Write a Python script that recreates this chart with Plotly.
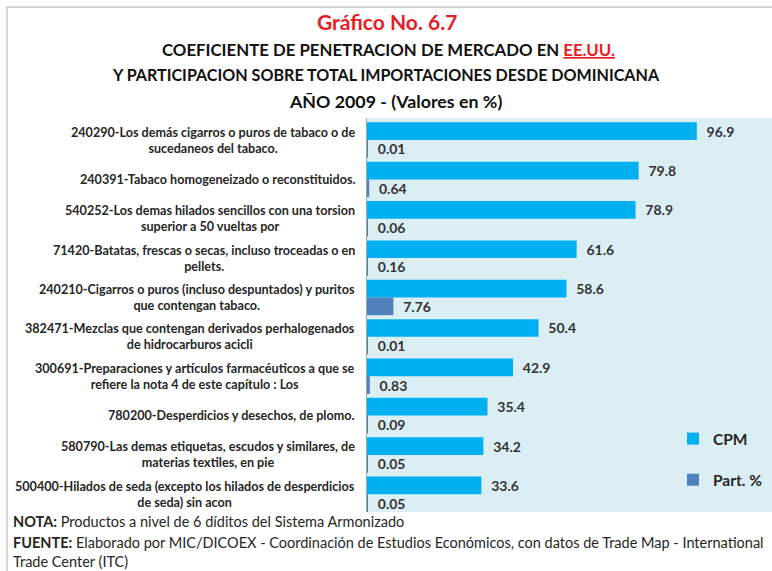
import plotly.graph_objects as go

categories = [
    "240290-Los demás cigarros o puros de tabaco o de<br>sucedaneos del tabaco.",
    "240391-Tabaco homogeneizado o reconstituidos.",
    "540252-Los demas hilados sencillos con una torsion<br>superior a 50 vueltas por",
    "71420-Batatas, frescas o secas, incluso troceadas o en<br>pellets.",
    "240210-Cigarros o puros (incluso despuntados) y puritos<br>que contengan tabaco.",
    "382471-Mezclas que contengan derivados perhalogenados<br>de hidrocarburos acicli",
    "300691-Preparaciones y artículos farmacéuticos a que se<br>refiere la nota 4 de este capítulo : Los",
    "780200-Desperdicios y desechos, de plomo.",
    "580790-Las demas etiquetas, escudos y similares, de<br>materias textiles, en pie",
    "500400-Hilados de seda (excepto los hilados de desperdicios<br>de seda) sin acon",
]
cpm = [96.9, 79.8, 78.9, 61.6, 58.6, 50.4, 42.9, 35.4, 34.2, 33.6]
part = [0.01, 0.64, 0.06, 0.16, 7.76, 0.01, 0.83, 0.09, 0.05, 0.05]

W_FIG, H_FIG = 772, 571
L, R, T, B = 367, 772, 118, 512
PW, PH = R - L, B - T


def px(x):
    return (x - L) / PW


def py(y):
    return (B - y) / PH


FONT = "Lato"
NB = "\u00a0\u00a0"

fig = go.Figure()
fig.add_trace(go.Bar(
    y=categories, x=cpm, orientation="h", name="CPM",
    marker=dict(color="#00b0f0", line=dict(width=0)),
    texttemplate=NB + "%{x:.1f}", textposition="outside", constraintext="none",
    textfont=dict(family=FONT, size=14, color="#333333", weight="bold"),
    cliponaxis=False, legendgroup="a",
))
fig.add_trace(go.Bar(
    y=categories, x=part, orientation="h", name="Part. %",
    marker=dict(color="#4f81bd", line=dict(width=0)),
    texttemplate=NB + "%{x:.2f}", textposition="outside", constraintext="none",
    textfont=dict(family=FONT, size=14, color="#333333", weight="bold"),
    cliponaxis=False, legendgroup="b",
))

annotations = []
for c in categories:
    annotations.append(dict(
        xref="paper", yref="y", x=0, y=c, xanchor="right", yanchor="middle",
        xshift=-10, text=c, align="center", showarrow=False,
        font=dict(family=FONT, size=12.6, color="#262626", weight="bold"),
    ))

title_lines = [
    ("Gráfico No. 6.7", 22, 387, 21, "#e41e26"),
    ("COEFICIENTE DE PENETRACION DE MERCADO EN <span style='color:#e41e26'><u>EE.UU.</u></span>", 50, 388, 16.8, "#111111"),
    ("Y PARTICIPACION SOBRE TOTAL IMPORTACIONES DESDE DOMINICANA", 75, 386, 16.1, "#111111"),
    ("AÑO 2009 - (Valores en %)", 101, 395, 17.8, "#111111"),
]
for txt, yy, xx, sz, col in title_lines:
    annotations.append(dict(
        xref="paper", yref="paper", x=px(xx), y=py(yy), xanchor="center", yanchor="middle",
        text="<b>" + txt + "</b>", showarrow=False,
        font=dict(family=FONT, size=sz, color=col),
    ))

notes = [
    ("<b>NOTA:</b> Productos a nivel de 6 díditos del Sistema Armonizado", 521),
    ("<b>FUENTE:</b> Elaborado por MIC/DICOEX - Coordinación de Estudios Económicos, con datos de Trade Map - International", 542),
    ("Trade Center (ITC)", 561),
]
for txt, yy in notes:
    annotations.append(dict(
        xref="paper", yref="paper", x=px(11), y=py(yy), xanchor="left", yanchor="middle",
        text=txt, showarrow=False, align="left",
        font=dict(family=FONT, size=14.5, color="#262626"),
    ))

fig.update_layout(
    width=W_FIG, height=H_FIG,
    margin=dict(l=L, r=W_FIG - R, t=T, b=H_FIG - B, pad=0, autoexpand=False),
    paper_bgcolor="white", plot_bgcolor="#dbeef4",
    barmode="group", bargap=0.1, bargroupgap=0,
    font=dict(family=FONT),
    showlegend=True,
    legend=dict(
        x=px(673), y=py(422), xanchor="left", yanchor="top",
        bgcolor="rgba(0,0,0,0)", tracegroupgap=18,
        font=dict(family=FONT, size=15.5, color="#262626", weight="bold"),
        itemwidth=30,
    ),
    xaxis=dict(range=[0, 119], showgrid=False, zeroline=False, showticklabels=False,
               showline=False, ticks=""),
    yaxis=dict(range=[9.45, -0.56], showgrid=False, zeroline=False, showticklabels=False,
               showline=True, linecolor="#a6a6a6", linewidth=1, ticks="", type="category"),
    annotations=annotations,
    shapes=[dict(type="rect", xref="paper", yref="paper",
                 x0=px(7), x1=px(800), y0=py(600), y1=py(7),
                 line=dict(color="#d6d6d6", width=2), fillcolor="rgba(0,0,0,0)", layer="above")],
)

fig.write_html(
    "out.html",
    config={"displayModeBar": False},
    post_script="document.body.style.margin='0';document.body.style.overflow='hidden';",
)
